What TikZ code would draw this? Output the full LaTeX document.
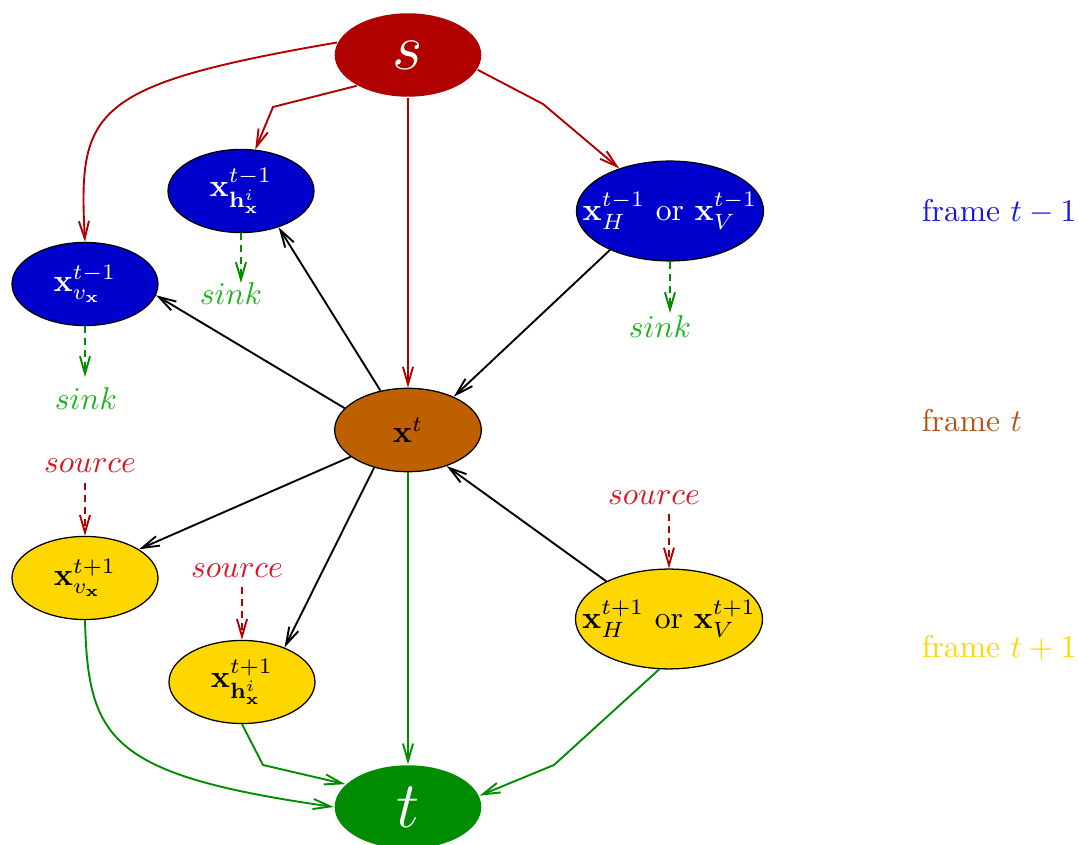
\documentclass[tikz,border=0pt]{standalone}
\usetikzlibrary{shapes.geometric,arrows.meta}
\definecolor{sred}{RGB}{176,0,0}
\definecolor{nblue}{RGB}{0,0,205}
\definecolor{tbrown}{RGB}{191,96,0}
\definecolor{tyellow}{RGB}{255,215,0}
\definecolor{tgreen}{RGB}{0,140,0}
\definecolor{sinkgreen}{RGB}{30,180,30}
\definecolor{sourcered}{RGB}{220,20,40}
\definecolor{frameblue}{RGB}{20,20,230}
\definecolor{framebrown}{RGB}{180,80,20}
\begin{document}
\begin{tikzpicture}[x=0.3165pt,y=-0.3165pt,line width=0.6pt,
  tipped/.style={-{Straight Barb[length=5.5pt,width=3.2pt]}},
  midnode/.style={ellipse,inner sep=0pt,minimum width=46.4pt,minimum height=26.4pt},
  smallnode/.style={ellipse,draw=black,line width=0.4pt,inner sep=0pt,minimum width=46.2pt,minimum height=26.3pt},
  bignode/.style={ellipse,draw=black,line width=0.4pt,inner sep=0pt,minimum width=59.2pt,minimum height=31.6pt},
  redarrow/.style={tipped,draw=sred},
  greenarrow/.style={tipped,draw=tgreen},
  blackarrow/.style={tipped,draw=black},
  dashpat/.style={dash pattern=on 2.2pt off 1.6pt},
  sinkarrow/.style={tipped,dashpat,draw=tgreen},
  sourcearrow/.style={tipped,dashpat,draw=sred},
  sinklbl/.style={text=sinkgreen,inner sep=0pt,anchor=base},
  sourcelbl/.style={text=sourcered,inner sep=0pt,anchor=base},
  framelbl/.style={inner sep=0pt,anchor=base west}]
\useasboundingbox (0,0) rectangle (1079,845);

% central nodes
\node[midnode,fill=sred,label={[text=white]center:\huge $s$}] (s) at (408,55) {};
\node[midnode,draw=black,line width=0.4pt,fill=tbrown,label={center:$\mathbf{x}^t$}] (xt) at (408,430) {};
\node[midnode,fill=tgreen,label={[text=white]center:\huge $t$}] (t) at (408,807) {};

% frame t-1 nodes
\node[smallnode,fill=nblue,label={[text=white]center:$\mathbf{x}^{t-1}_{\mathbf{h}^i_{\mathbf{x}}}$}] (hp) at (241,191) {};
\node[smallnode,fill=nblue,label={[text=white]center:$\mathbf{x}^{t-1}_{v_{\mathbf{x}}}$}] (vp) at (85,284) {};
\node[bignode,fill=nblue,label={[text=white]center:$\mathbf{x}^{t-1}_H$ or $\mathbf{x}^{t-1}_V$}] (Hp) at (670,211) {};

% frame t+1 nodes
\node[smallnode,fill=tyellow,label={center:$\mathbf{x}^{t+1}_{v_{\mathbf{x}}}$}] (vn) at (85,578) {};
\node[smallnode,fill=tyellow,label={center:$\mathbf{x}^{t+1}_{\mathbf{h}^i_{\mathbf{x}}}$}] (hn) at (242,682) {};
\node[bignode,fill=tyellow,label={center:$\mathbf{x}^{t+1}_H$ or $\mathbf{x}^{t+1}_V$}] (Hn) at (669,619) {};

% sink / source labels
\node[sinklbl] (sinkh) at (231,305) {$sink$};
\node[sinklbl] (sinkv) at (86,410) {$sink$};
\node[sinklbl] (sinkH) at (660,338) {$sink$};
\node[sourcelbl] (srcv) at (90,473) {$source$};
\node[sourcelbl] (srch) at (237,578) {$source$};
\node[sourcelbl] (srcH) at (654,505) {$source$};

\coordinate (skh) at (241,283);
\coordinate (skv) at (85,377);
\coordinate (skH) at (670,313);
\coordinate (scv) at (85,483);
\coordinate (sch) at (242,587);
\coordinate (scH) at (669,514);

% frame labels
\node[framelbl,text=frameblue] (f1) at (921,222) {frame $t-1$};
\node[framelbl,text=framebrown] (f2) at (921,432) {frame $t$};
\node[framelbl,text=tyellow] (f3) at (921,658) {frame $t+1$};

% red arrows from s
\draw[redarrow] (s.south) -- (xt.north);
\draw[redarrow] (s.170) .. controls (90,85) and (78,110) .. (vp.north);
\draw[redarrow] (s.211.6) -- (273,107) -- (hp.71.6);
\draw[redarrow] (s.348) -- (543,104) -- (Hp.140.8);

% black arrows
\draw[blackarrow] (xt.161) -- (vp.351);
\draw[blackarrow] (xt.125.5) -- (hp.-44.3);
\draw[blackarrow] (Hp.213.3) -- (xt.36.9);
\draw[blackarrow] (xt.205) -- (vn.28);
\draw[blackarrow] (xt.228) -- (hn.39);
\draw[blackarrow] (Hn.149.7) -- (xt.317);

% green arrows to t
\draw[greenarrow] (xt.south) -- (t.north);
\draw[greenarrow] (vn.south) .. controls (88,740) and (110,775) .. (t.west);
\draw[greenarrow] (hn.south) -- (263,765) -- (t.160.7);
\draw[greenarrow] (Hn.259) -- (554,765) -- (t.9);

% dashed sink / source arrows
\draw[sinkarrow] (hp.south) -- (skh);
\draw[sinkarrow] (vp.south) -- (skv);
\draw[sinkarrow] (Hp.south) -- (skH);
\draw[sourcearrow] (scv) -- (vn.north);
\draw[sourcearrow] (sch) -- (hn.north);
\draw[sourcearrow] (scH) -- (Hn.north);
\end{tikzpicture}
\end{document}
